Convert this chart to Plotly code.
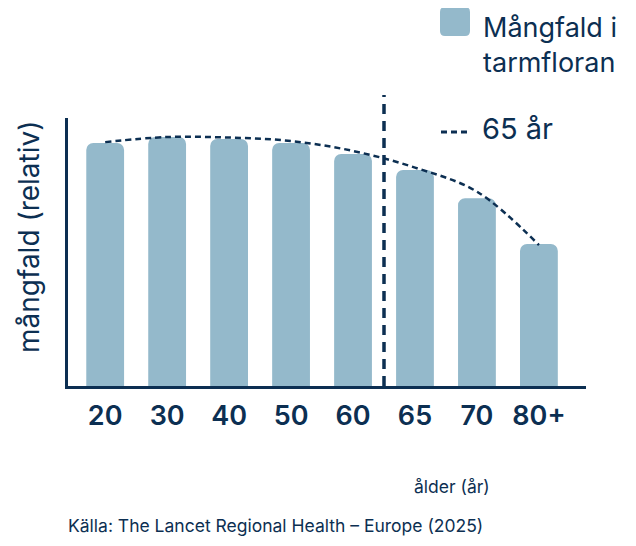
import plotly.graph_objects as go

# åldersgrupper och relativ mångfald
age_groups = ["20", "30", "40", "50", "60", "65", "70", "80+"]
diversity = [90.7, 92.9, 92.2, 90.7, 86.6, 80.6, 70.1, 53.0]
trend = [91.0, 92.9, 92.7, 91.4, 87.7, 81.5, 72.5, 52.6]
marker_age = 4.5  # mellan 60 och 65

NAVY = "#0c2f52"
BAR = "#94b9cb"
FONT = "Inter"

# sidan har 8px marginal runt figuren, så figuren görs lite mindre
OFF = 8
W, H = 620, 530
L, R, T, B = 60, 42, 110, 152
pw, ph = W - L - R, H - T - B


def px(x):
    # skärmpixel -> paper
    return (x - OFF - L) / pw


def py(y):
    return (H - B - (y - OFF)) / ph


xpos = list(range(len(age_groups)))

fig = go.Figure()
fig.add_trace(go.Bar(
    x=xpos, y=diversity,
    marker=dict(color=BAR, line=dict(width=0)),
    width=0.61,
    showlegend=False,
))
fig.add_trace(go.Scatter(
    x=xpos, y=trend,
    mode="lines",
    line=dict(color=NAVY, width=2.5, dash="6px,4px", shape="spline", smoothing=1.0),
    showlegend=False,
))

shapes = [
    # 65-års linjen
    dict(type="line", xref="x", yref="paper", x0=marker_age, x1=marker_age,
         y0=0, y1=py(95), line=dict(color=NAVY, width=3.5, dash="10px,7px")),
    # legend: streckad linje
    dict(type="line", xref="paper", yref="paper", x0=px(441), x1=px(471),
         y0=py(132), y1=py(132), line=dict(color=NAVY, width=3, dash="6px,4px")),
    # legend: rundad ruta
    dict(type="path", xref="paper", yref="paper", xsizemode="pixel", ysizemode="pixel",
         xanchor=px(440), yanchor=py(36),
         path="M 5 0 L 25 0 Q 30 0 30 5 L 30 24 Q 30 29 25 29 L 5 29 Q 0 29 0 24 L 0 5 Q 0 0 5 0 Z",
         fillcolor=BAR, line=dict(width=0)),
]

annotations = [
    dict(text="Mångfald i<br>tarmfloran", x=px(481), y=py(8.5), xanchor="left", yanchor="top",
         align="left", font=dict(size=27, color=NAVY, family=FONT)),
    dict(text="65 år", x=px(480), y=py(129), xanchor="left", yanchor="middle",
         font=dict(size=29, color=NAVY, family=FONT)),
    dict(text="mångfald (relativ)", x=px(29), y=py(237), textangle=-90,
         xanchor="center", yanchor="middle",
         font=dict(size=28, color=NAVY, family=FONT)),
    dict(text="ålder (år)", x=px(452), y=py(486), xanchor="center", yanchor="middle",
         font=dict(size=17.5, color=NAVY, family=FONT)),
    dict(text="Källa: The Lancet Regional Health – Europe (2025)", x=px(66), y=py(525),
         xanchor="left", yanchor="middle",
         font=dict(size=17.5, color=NAVY, family=FONT)),
]
for a in annotations:
    a.update(xref="paper", yref="paper", showarrow=False)

fig.update_layout(
    width=W, height=H,
    margin=dict(l=L, r=R, t=T, b=B),
    paper_bgcolor="white", plot_bgcolor="white",
    barcornerradius=7,
    shapes=shapes,
    annotations=annotations,
    xaxis=dict(
        range=[-0.6, 7.76], tickvals=xpos, ticktext=age_groups,
        showline=True, linecolor=NAVY, linewidth=3, showgrid=False, zeroline=False,
        ticks="", ticklabelstandoff=4,
        tickfont=dict(size=27, color=NAVY, family=FONT, weight=600),
    ),
    yaxis=dict(
        range=[0, 100], showticklabels=False, showgrid=False, zeroline=False,
        showline=True, linecolor=NAVY, linewidth=3, ticks="",
    ),
)

fig.write_html("out.html")
